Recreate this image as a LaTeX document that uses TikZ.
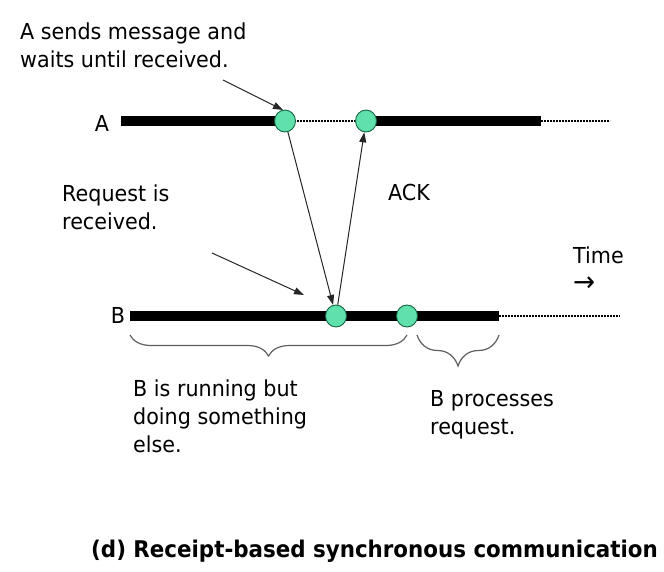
\documentclass[tikz,border=0pt]{standalone}
\usepackage{fontspec}
\setmainfont{DejaVu Sans}[FakeStretch=0.94]
\newfontfamily\capfont{DejaVu Sans}[FakeStretch=0.93]
\usetikzlibrary{arrows.meta,decorations.pathreplacing,shapes.geometric}
\definecolor{mint}{RGB}{96,224,170}
\definecolor{mintedge}{RGB}{20,100,70}
\definecolor{bracegray}{RGB}{95,95,95}
\begin{document}
\begin{tikzpicture}[x=1pt,y=-1pt,
  txt/.style={inner sep=0pt,align=left,font=\fontsize{22}{28}\selectfont},
  tline/.style={line width=10pt,line cap=butt},
  dline/.style={line width=1.4pt,dash pattern=on 1.6pt off 1.4pt},
  evt/.style={ellipse,minimum width=21pt,minimum height=22pt,inner sep=0pt,fill=mint,draw=mintedge,line width=0.9pt},
  msg/.style={line width=1pt,color=black!85,-{Triangle[length=10pt,width=7pt]}},
  brc/.style={decorate,draw=bracegray,line width=1.2pt}
]
\useasboundingbox (0,0) rectangle (664,572);
% coordinates
\coordinate (aStart) at (121,121);
\coordinate (aEnd) at (541,121);
\coordinate (aDot) at (610,121);
\coordinate (bStart) at (130,316);
\coordinate (bEnd) at (499,316);
\coordinate (bDot) at (620,316);
\coordinate (n1) at (223,80);
\coordinate (n1t) at (283,110);
\coordinate (n2) at (212,253);
\coordinate (n2t) at (304,295);
% timelines
\draw[dline] (285,121) -- (366,121);
\draw[dline] (aEnd) -- (aDot);
\draw[tline] (aStart) -- (285,121);
\draw[tline] (366,121) -- (aEnd);
\draw[dline] (bEnd) -- (bDot);
\draw[tline] (bStart) -- (bEnd);
% events
\node[evt] (A1) at (285,121) {};
\node[evt] (A2) at (366,121) {};
\node[evt] (B1) at (336,316) {};
\node[evt] (B2) at (407,316) {};
% messages
\draw[msg] (A1) -- (B1);
\draw[msg] (B1) -- (A2);
\draw[msg] (n1) -- (n1t);
\draw[msg] (n2) -- (n2t);
% braces
\draw[brc,decoration={brace,mirror,amplitude=21pt}] (130,335) -- (407,335);
\draw[brc,decoration={brace,mirror,amplitude=31pt}] (417,335) -- (499,335);
% labels
\node[txt,anchor=base] (la) at (102,132) {A};
\node[txt,anchor=base] (lb) at (118,323) {B};
\node[txt,anchor=north west] (t1) at (20,22.3) {A sends message and\\waits until received.};
\node[txt,anchor=north west] (t2) at (62,184.3) {Request is\\received.};
\node[txt,anchor=base west] (ack) at (388,201) {ACK};
\node[txt,anchor=north west] (time) at (573,247) {Time\\{\fontsize{28}{28}\selectfont →}};
\node[txt,anchor=north west] (t3) at (133,379.3) {B is running but\\doing something\\else.};
\node[txt,anchor=north west] (t4) at (430,390.3) {B processes\\request.};
\node[inner sep=0pt,anchor=base,font=\capfont\bfseries\fontsize{23}{28}\selectfont] (cap) at (374.5,557) {(d) Receipt-based synchronous communication};
\end{tikzpicture}
\end{document}
